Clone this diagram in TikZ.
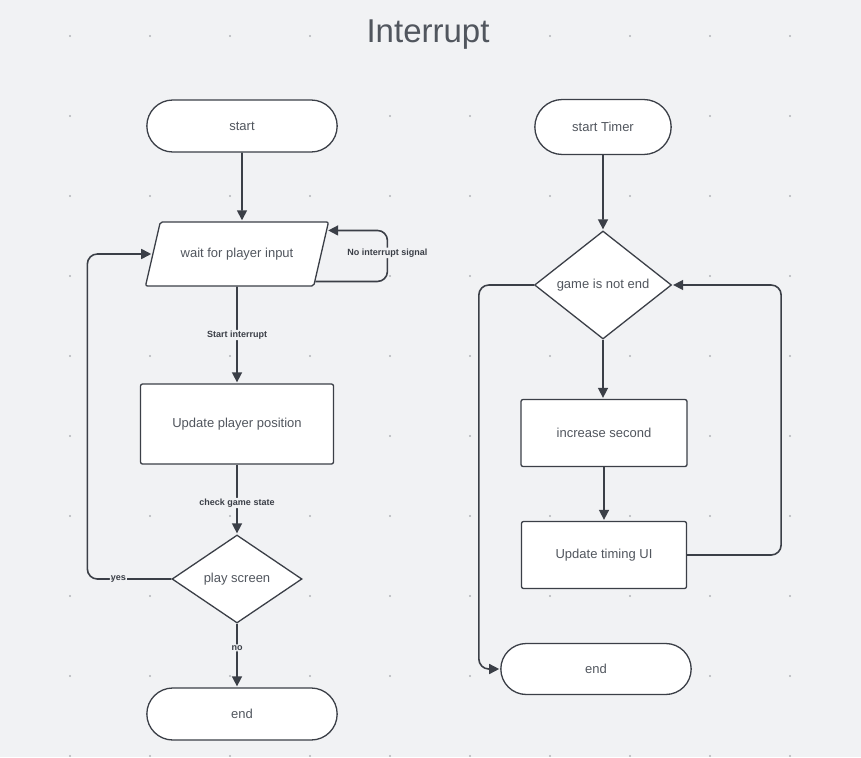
\documentclass[tikz,border=0pt]{standalone}
\usepackage{fontspec}
\setmainfont{Liberation Sans}
\usepackage{xcolor}
\usetikzlibrary{positioning, shapes.geometric, shapes.misc, arrows.meta, calc}

\definecolor{bgcol}{HTML}{F1F2F4}
\definecolor{linecol}{HTML}{3B3F47}
\definecolor{textcol}{HTML}{51565E}
\definecolor{dotcol}{HTML}{B2B4B8}

\tikzset{
    base/.style={draw=linecol, fill=white, line width=1.3pt, text=textcol, font=\fontsize{13}{15}\selectfont},
    term/.style={base, rounded rectangle, minimum width=197pt, minimum height=52pt},
    io/.style={base, trapezium, trapezium left angle=77, trapezium right angle=103,
        trapezium stretches body, minimum width=183pt, inner ysep=26pt, rounded corners=2pt},
    proc/.style={base, rectangle, rounded corners=2pt},
    decision/.style={base, diamond, inner sep=0pt},
    flow/.style={->, draw=linecol, line width=1.6pt, rounded corners=10pt},
    lbl/.style={fill=bgcol, text=linecol, inner sep=1pt, font=\bfseries\fontsize{9}{10}\selectfont},
}

\begin{document}
\begin{tikzpicture}[x=1pt, y=-1pt, node distance=128pt, on grid, shorten >=1pt,
    >={Triangle[length=10pt, width=10pt]}]
    \fill[bgcol] (0,0) rectangle (861,757);
    \useasboundingbox (0,0) rectangle (861,757);
    \foreach \dx in {70,150,...,790}
        \foreach \dy in {36,116,...,756}
            \fill[dotcol] (\dx,\dy) circle (1.1pt);

    \node[fill=bgcol, text=textcol, font=\fontsize{33}{36}\selectfont] (title) at (428,35) {Interrupt};

    % left chart
    \node[term] (start) at (242,126) {start};
    \node[io, below=of start, xshift=-5pt] (wait) {wait for player input};
    \node[proc, below=170pt of wait, minimum width=193pt, minimum height=80pt] (upd) {Update player position};
    \node[decision, below=155pt of upd, minimum width=130pt, minimum height=88pt] (play) {play screen};
    \node[term, below=135pt of play, xshift=5pt] (endL) {end};

    % right chart
    \node[term, minimum width=143pt, minimum height=55pt] (timer) at (603,127) {start Timer};
    \node[decision, below=158pt of timer, minimum width=137pt, minimum height=108pt] (game) {game is not end};
    \node[proc, below=148pt of game, xshift=1pt, minimum width=166pt, minimum height=67pt] (inc) {increase second};
    \node[proc, below=122pt of inc, minimum width=165pt, minimum height=67pt] (ui) {Update timing UI};
    \node[term, below=114pt of ui, xshift=-8pt, minimum height=51pt] (endR) {end};

    \draw[flow] (start) -- (start |- wait.north);
    \draw[flow] ($(wait.bottom right corner)!0.08!(wait.top right corner)$) -- ++(72,0)
        |- node[lbl, pos=0.28] {No interrupt signal} ($(wait.bottom right corner)!0.86!(wait.top right corner)$);
    \draw[flow] (wait) -- node[lbl] {Start interrupt} (upd);
    \draw[flow] (upd) -- node[lbl, pos=0.55] {check game state} (play);
    \draw[flow] (play.west) -- node[lbl, pos=0.63] {yes} ++(-84,0) |- (wait.west);
    \draw[flow] (play) -- node[lbl, pos=0.38] {no} (play |- endL.north);

    \draw[flow] (timer) -- (game);
    \draw[flow] (game) -- (game |- inc.north);
    \draw[flow] (inc) -- (ui);
    \draw[flow] (ui.east) -- ++(94,0) |- (game.east);
    \draw[flow] (game.west) -- ++(-55,0) |- (endR.west);
\end{tikzpicture}
\end{document}
